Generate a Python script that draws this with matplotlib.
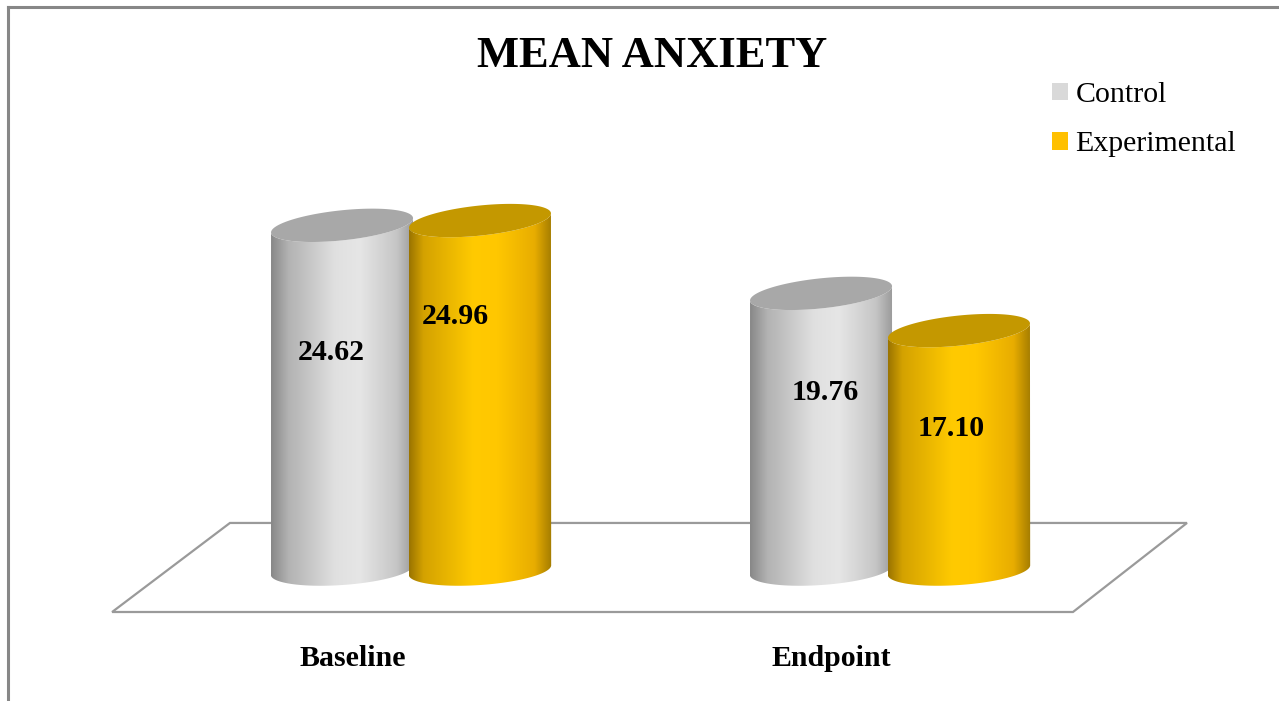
import numpy as np
import matplotlib
matplotlib.use("Agg")
import matplotlib.pyplot as plt
from matplotlib.patches import Polygon, Patch
from matplotlib.colors import LinearSegmentedColormap
from matplotlib.lines import Line2D

# ---- data ----
categories = ["Baseline", "Endpoint"]
series_names = ["Control", "Experimental"]
control = [24.62, 19.76]
experimental = [24.96, 17.10]

# ---- style ----
SERIF = ["Liberation Serif", "DejaVu Serif"]
legend_colors = ["#d9d9d9", "#ffc000"]
top_colors = ["#a8a8a8", "#c49800"]
side_cmaps = [
    LinearSegmentedColormap.from_list("ctrl", [
        (0.00, "#888888"), (0.12, "#b2b2b2"), (0.45, "#e0e0e0"),
        (0.62, "#e6e6e6"), (0.88, "#c6c6c6"), (1.00, "#9a9a9a")]),
    LinearSegmentedColormap.from_list("expt", [
        (0.00, "#9a7400"), (0.10, "#d4a200"), (0.45, "#ffca00"),
        (0.62, "#ffc700"), (0.88, "#e8ad00"), (1.00, "#a47c00")]),
]

W, H = 1279, 701
fig = plt.figure(figsize=(W / 100, H / 100), dpi=100)
ax = fig.add_axes([0, 0, 1, 1])
ax.axis("off")

# pixels per category step and per value unit
PX_X, PX_Y = 479.0, 14.0
XLIM = (-411 / PX_X, (W - 411) / PX_X)
YLIM = (-(H - 570) / PX_Y, 570 / PX_Y)

# floor of the 3-D plot area
floor = Polygon([(-0.624, -3.0), (1.382, -3.0), (1.620, 3.36), (-0.378, 3.36)],
                closed=True, facecolor="white", edgecolor="#9a9a9a",
                linewidth=1.6, zorder=1)
ax.add_patch(floor)

offsets = [-0.144, 0.144]
half_w = 0.149
B_PX = 15.0  # minor semi-axis of the cylinder ends, in pixels


def ring(xc, yc, tilt_deg, tt):
    a = half_w * PX_X
    th = np.radians(tilt_deg)
    dx = a * np.cos(tt) * np.cos(th) - B_PX * np.sin(tt) * np.sin(th)
    dy = a * np.cos(tt) * np.sin(th) + B_PX * np.sin(tt) * np.cos(th)
    return np.column_stack([xc + dx / PX_X, yc + dy / PX_Y])


def cylinder(xc, h, k, z):
    front = np.linspace(np.pi, 2 * np.pi, 120)
    body = np.vstack([ring(xc, 0.0, 4, front), ring(xc, h, 6, front[::-1])])
    clip = Polygon(body, closed=True, facecolor="none", edgecolor="none",
                   transform=ax.transData)
    ax.add_patch(clip)
    grad = np.linspace(0, 1, 256)[None, :]
    im = ax.imshow(grad, cmap=side_cmaps[k], aspect="auto",
                   extent=[xc - half_w, xc + half_w, -3, h + 3],
                   interpolation="bilinear", zorder=z)
    im.set_clip_path(clip)
    ax.add_patch(Polygon(ring(xc, h, 6, np.linspace(0, 2 * np.pi, 200)),
                         closed=True, facecolor=top_colors[k],
                         edgecolor="none", zorder=z + 0.1))


# label placement: drop below the cylinder top and sideways shift (pixels)
label_drop = [[135, 103], [107, 105]]
label_dx = [[-11, -25], [4, -8]]

z = 2
for i, cat in enumerate(categories):
    for k, vals in enumerate([control, experimental]):
        xc = i + offsets[k]
        v = vals[i]
        cylinder(xc, v, k, z)
        ax.text(xc + label_dx[i][k] / PX_X, v - label_drop[i][k] / PX_Y,
                f"{v:.2f}", ha="center", va="baseline", fontsize=21.5,
                fontweight="bold", family=SERIF, zorder=z + 0.5)
        z += 1
    ax.text(i - 0.122, -(665.5 - 570) / PX_Y, cat, ha="center", va="baseline",
            fontsize=21.5, fontweight="bold", family=SERIF)

ax.set_xlim(*XLIM)
ax.set_ylim(*YLIM)

fig.text(652 / W, 1 - 67 / H, "MEAN ANXIETY", ha="center", va="baseline",
         fontsize=32, fontweight="bold", family=SERIF)

handles = [Patch(facecolor=c, edgecolor="none") for c in legend_colors]
fig.legend(handles, series_names, loc="upper left",
           bbox_to_anchor=(1052 / W, 1 - 82 / H), frameon=False,
           prop={"family": SERIF, "size": 21.5}, handlelength=0.53,
           handleheight=0.53, handletextpad=0.25, labelspacing=0.78,
           borderpad=0, borderaxespad=0)

# chart frame (left and top edges)
fig.add_artist(Line2D([8 / W, 8 / W], [0, 1 - 7 / H], color="#878787",
                      linewidth=2.2, transform=fig.transFigure))
fig.add_artist(Line2D([8 / W, 1], [1 - 7 / H, 1 - 7 / H], color="#878787",
                      linewidth=2.2, transform=fig.transFigure))

fig.savefig("out.png", dpi=100)
